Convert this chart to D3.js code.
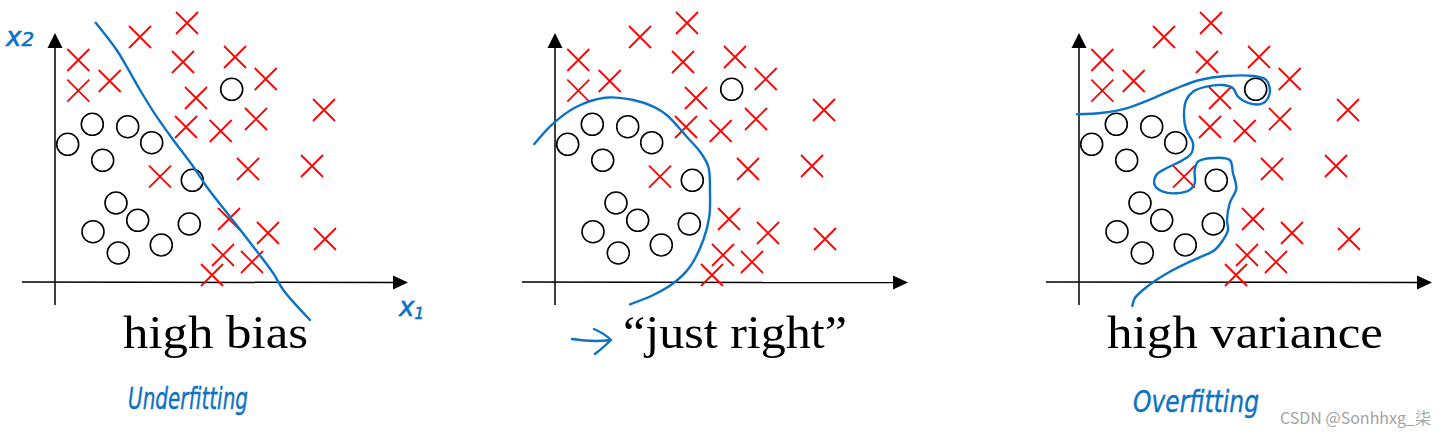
<!DOCTYPE html>
<html>
<head>
<meta charset="utf-8">
<script src="https://cdn.jsdelivr.net/npm/d3@7"></script>
<style>
  body { margin: 0; background: #fff; }
</style>
</head>
<body>
<div id="viz"></div>
<script>
// training points, same set in every panel (x1, x2)
const circlePts = [
  [176.7, 192.7], [37.3, 157.7], [72.7, 155.3], [96.7, 139.3], [12.7, 137.7],
  [47.7, 121.7], [137.3, 101.7], [61, 79], [82.7, 61.7], [134.3, 58],
  [38, 50.3], [106.3, 37], [63.3, 29]
];
const crossPts = [
  [132, 259], [85, 245], [23.3, 222], [128, 220], [180, 225], [210.7, 203],
  [54.7, 201], [23.3, 191.3], [141, 184], [269, 172], [201, 163], [131, 155],
  [165.7, 151], [105, 105.3], [193, 113], [257, 116], [174, 63], [213, 49],
  [270, 43], [168, 27], [197, 20], [157, 7]
];

// decision boundaries as drawn by hand
const biasCurve = [
  [40.7, 259.3], [61.7, 232], [71.7, 215.3], [85, 192], [101.7, 165.3],
  [118.3, 142], [138.3, 115.3], [151.7, 95.3], [175, 65.3], [198.3, 35.3],
  [218.3, 8.7], [228.3, -8], [255, -38]
];
const rightCurve = [
  [-20.7, 138], [-1.7, 158.7], [21.7, 175.3], [50, 184.3], [78.3, 182],
  [98.3, 175.3], [111.7, 167], [131.7, 145.3], [145, 130.3], [153.3, 115.3],
  [155, 88.7], [154.3, 65.3], [148.3, 42], [135, 15.3], [118.3, -1.3],
  [98.3, -13], [75, -22.3]
];
const varianceCurve = [
  [-2, 167.7], [24, 169.3], [47.3, 173.7], [74, 183.7], [97.3, 193.7],
  [120.7, 202], [147.3, 206], [174, 206], [187.3, 202], [190.7, 188.7],
  [184, 178.7], [170.7, 178.7], [159, 185.3], [154, 193.7], [144, 197],
  [127.3, 195.3], [114, 190.3], [107.3, 182], [105, 165.3], [107.3, 152],
  [114, 138.7], [112.3, 128.7], [104, 122], [87.3, 113.7], [77.3, 107],
  [75.7, 97], [84, 90.3], [97.3, 88.7], [110.7, 92], [115.7, 98.7],
  [115.7, 112], [119, 120.3], [130.7, 123.7], [150.7, 122], [154, 108.7],
  [157.3, 93.7], [150.7, 78.7], [148, 62], [149, 52], [144, 42],
  [135.7, 32], [122.3, 25.3], [107.3, 18.7], [94, 12], [77.3, 2],
  [64, -8], [55.7, -16.3], [53.3, -24]
];

const titles = ["high bias", "\u201Cjust right\u201D", "high variance"];
const notes = ["Underfitting", "", "Overfitting"];
const curves = [biasCurve, rightCurve, varianceCurve];

const width = 1444;
const height = 437;
const blue = "#0b72c6";
const red = "#ff0000";

const svg = d3.select("#viz").append("svg")
  .attr("width", width)
  .attr("height", height);

const x = d3.scaleLinear().domain([0, 350]).range([55, 405]);
const y = d3.scaleLinear().domain([0, 250]).range([282, 32]);
const panelX = d3.scaleOrdinal().domain([0, 1, 2]).range([0, 500, 1024]);

const line = d3.line()
  .x(d => x(d[0]))
  .y(d => y(d[1]))
  .curve(d3.curveCatmullRom.alpha(0.5));

titles.forEach((title, i) => {
  const g = svg.append("g").attr("transform", `translate(${panelX(i)},0)`);

  // axes
  g.append("line")
    .attr("x1", x(-33)).attr("x2", x(339))
    .attr("y1", y(0)).attr("y2", y(-0.6))
    .attr("stroke", "black").attr("stroke-width", 1.5);
  g.append("path")
    .attr("d", `M${x(353)},${y(-0.6)} L${x(338)},${y(-0.6) - 7} L${x(338)},${y(-0.6) + 7} Z`)
    .attr("fill", "black");
  g.append("line")
    .attr("x1", x(0)).attr("x2", x(0))
    .attr("y1", y(-23)).attr("y2", y(235))
    .attr("stroke", "black").attr("stroke-width", 1.5);
  g.append("path")
    .attr("d", `M${x(0)},${y(249)} L${x(0) - 7.5},${y(234)} L${x(0) + 7.5},${y(234)} Z`)
    .attr("fill", "black");

  // points
  g.selectAll("circle.pt")
    .data(circlePts)
    .enter()
    .append("circle")
    .attr("class", "pt")
    .attr("cx", d => x(d[0]))
    .attr("cy", d => y(d[1]))
    .attr("r", 11)
    .attr("fill", "none")
    .attr("stroke", "black")
    .attr("stroke-width", 1.6);

  g.selectAll("path.cross")
    .data(crossPts)
    .enter()
    .append("path")
    .attr("class", "cross")
    .attr("d", d => {
      const cx = x(d[0]), cy = y(d[1]), s = 11;
      return `M${cx - s},${cy - s}L${cx + s},${cy + s}M${cx + s},${cy - s}L${cx - s},${cy + s}`;
    })
    .attr("stroke", red)
    .attr("stroke-width", 1.8)
    .attr("fill", "none");

  // boundary
  g.append("path")
    .attr("d", line(curves[i]))
    .attr("fill", "none")
    .attr("stroke", blue)
    .attr("stroke-width", 2.4)
    .attr("stroke-linecap", "round")
    .attr("stroke-linejoin", "round");

  // title
  const titleCenter = [215.5, 235, 221][i];
  const titleLen = [185, 224, 276][i];
  g.append("text")
    .attr("x", titleCenter)
    .attr("y", 348)
    .attr("text-anchor", "middle")
    .attr("font-family", "Liberation Serif, serif")
    .attr("font-size", 47)
    .attr("textLength", titleLen)
    .attr("lengthAdjust", "spacingAndGlyphs")
    .attr("fill", "black")
    .text(title);

  if (notes[i]) {
    const noteX = [128, 0, 109][i];
    const noteLen = [120, 0, 126][i];
    g.append("text")
      .attr("x", noteX)
      .attr("y", 409 + (i === 2 ? 3 : 0))
      .attr("font-family", "DejaVu Sans, sans-serif")
      .attr("font-style", "italic")
      .attr("font-size", 30)
      .attr("textLength", noteLen)
      .attr("lengthAdjust", "spacingAndGlyphs")
      .attr("fill", blue)
      .attr("stroke", blue)
      .attr("stroke-width", 0.4)
      .text(notes[i]);
  }
});

// axis names on the first panel
const xName = svg.append("text")
  .attr("x", 399).attr("y", 316)
  .attr("font-family", "DejaVu Sans, sans-serif")
  .attr("font-style", "italic")
  .attr("font-size", 26)
  .attr("fill", blue)
  .attr("stroke", blue)
  .attr("stroke-width", 0.6);
xName.append("tspan").text("x");
xName.append("tspan").attr("font-size", 15).attr("dy", 3).text("1");

const yName = svg.append("text")
  .attr("x", 6).attr("y", 46)
  .attr("font-family", "DejaVu Sans, sans-serif")
  .attr("font-style", "italic")
  .attr("font-size", 26)
  .attr("fill", blue)
  .attr("stroke", blue)
  .attr("stroke-width", 0.6);
yName.append("tspan").text("x");
yName.append("tspan").attr("font-size", 20).text("2");

// the little arrow pointing at "just right"
svg.append("path")
  .attr("d", "M572,339 C585,341 598,342 610,340 M594,329 C601,332 607,336 611,340 C606,345 600,350 595,354")
  .attr("fill", "none")
  .attr("stroke", blue)
  .attr("stroke-width", 2.4)
  .attr("stroke-linecap", "round");

// watermark
svg.append("text")
  .attr("x", 1431).attr("y", 424)
  .attr("text-anchor", "end")
  .attr("font-family", "Noto Sans CJK SC, Noto Sans, sans-serif")
  .attr("font-size", 16)
  .attr("fill", "#a3a3a3")
  .text("CSDN @Sonhhxg_柒");
</script>
</body>
</html>
